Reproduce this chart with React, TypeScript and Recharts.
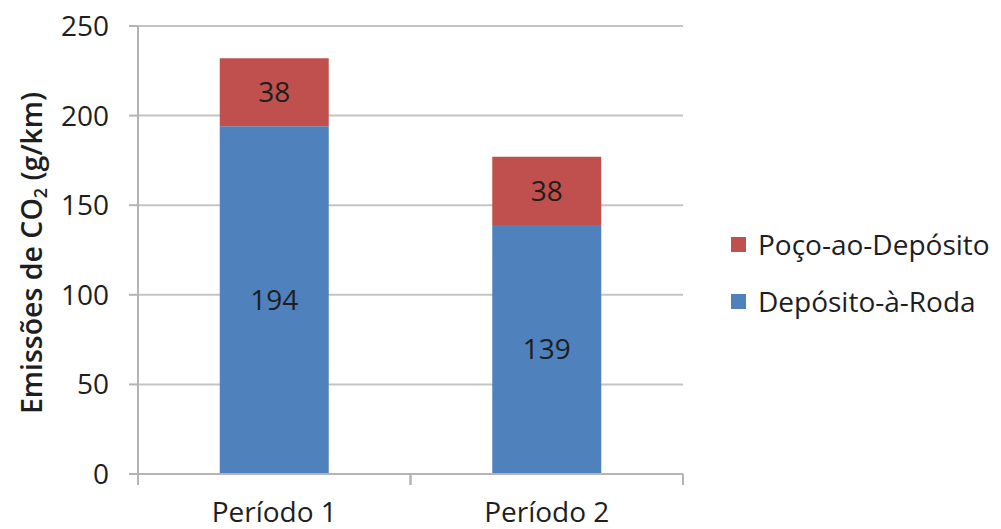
import React from 'react';
import { BarChart, Bar, XAxis, YAxis, CartesianGrid, LabelList } from 'recharts';

const categories = ['Período 1', 'Período 2'];
const depositoARoda = [194, 139];
const pocoAoDeposito = [38, 38];
const yTicks = [0, 50, 100, 150, 200, 250];
const seriesNames = ['Poço-ao-Depósito', 'Depósito-à-Roda'];
const seriesColors = ['#C0504D', '#4F81BD'];

const data = categories.map((c, i) => ({
  name: c,
  roda: depositoARoda[i],
  poco: pocoAoDeposito[i],
}));

const FONT = '"Open Sans", sans-serif';
const TEXT = '#1e1e1e';
const AXIS = '#B4B4B4';

const XTick = (props: any) => {
  const { x, y, payload, width, visibleTicksCount } = props;
  const off =
    payload && typeof payload.offset === 'number' && payload.offset > 0
      ? payload.offset
      : width / (visibleTicksCount || 1) / 2;
  return (
    <g>
      <line x1={x - off} x2={x - off} y1={y} y2={y + 11} stroke={AXIS} strokeWidth={2} />
      <line x1={x + off} x2={x + off} y1={y} y2={y + 11} stroke={AXIS} strokeWidth={2} />
      <text x={x} y={y + 48} textAnchor="middle" fontFamily={FONT} fontSize={28} fill={TEXT}>
        {payload.value}
      </text>
    </g>
  );
};

const YLabel = (props: any) => {
  const vb = props.viewBox || { x: 0, y: 0, width: 138, height: 448 };
  const cx = vb.x + 42;
  const cy = vb.y + vb.height / 2 + 3;
  return (
    <text
      x={cx}
      y={cy}
      transform={`rotate(-90, ${cx}, ${cy})`}
      textAnchor="middle"
      fontFamily={FONT}
      fontSize={28.5}
      fontWeight={600}
      fill={TEXT}
    >
      <tspan>Emissões de CO</tspan>
      <tspan fontSize={18} dy={5}>2</tspan>
      <tspan dy={-5}> (g/km)</tspan>
    </text>
  );
};

export default function App() {
  return (
    <div style={{ position: 'absolute', left: 0, top: 0, width: 1001, height: 529, background: '#fff' }}>
      <BarChart
        width={1001}
        height={529}
        data={data}
        margin={{ top: 26, right: 318, left: 0, bottom: 10 }}
        barCategoryGap="30%"
      >
        <CartesianGrid vertical={false} stroke="#C4C4C4" strokeWidth={2} />
        <XAxis
          dataKey="name"
          height={45}
          tickSize={0}
          tickMargin={0}
          tickLine={false}
          axisLine={{ stroke: AXIS, strokeWidth: 2 }}
          tick={<XTick />}
          interval={0}
        />
        <YAxis
          width={138}
          domain={[0, 250]}
          ticks={yTicks}
          tickSize={9}
          tickMargin={20}
          axisLine={{ stroke: AXIS, strokeWidth: 2 }}
          tickLine={{ stroke: AXIS, strokeWidth: 2 }}
          tick={{ fontFamily: FONT, fontSize: 28, fill: TEXT }}
          label={<YLabel />}
        />
        <Bar dataKey="roda" stackId="a" fill={seriesColors[1]} isAnimationActive={false}>
          <LabelList dataKey="roda" position="center" fontFamily={FONT} fontSize={28} fill={TEXT} />
        </Bar>
        <Bar dataKey="poco" stackId="a" fill={seriesColors[0]} isAnimationActive={false}>
          <LabelList dataKey="poco" position="center" fontFamily={FONT} fontSize={28} fill={TEXT} />
        </Bar>
      </BarChart>
      <div style={{ position: 'absolute', left: 731, top: 225, fontFamily: FONT, fontSize: 28, color: TEXT }}>
        {seriesNames.map((n, i) => (
          <div key={n} style={{ display: 'flex', alignItems: 'center', height: 38, marginBottom: i === 0 ? 19 : 0 }}>
            <span style={{ display: 'inline-block', width: 15, height: 15, background: seriesColors[i], marginRight: 12 }} />
            <span style={{ whiteSpace: 'nowrap' }}>{n}</span>
          </div>
        ))}
      </div>
    </div>
  );
}
